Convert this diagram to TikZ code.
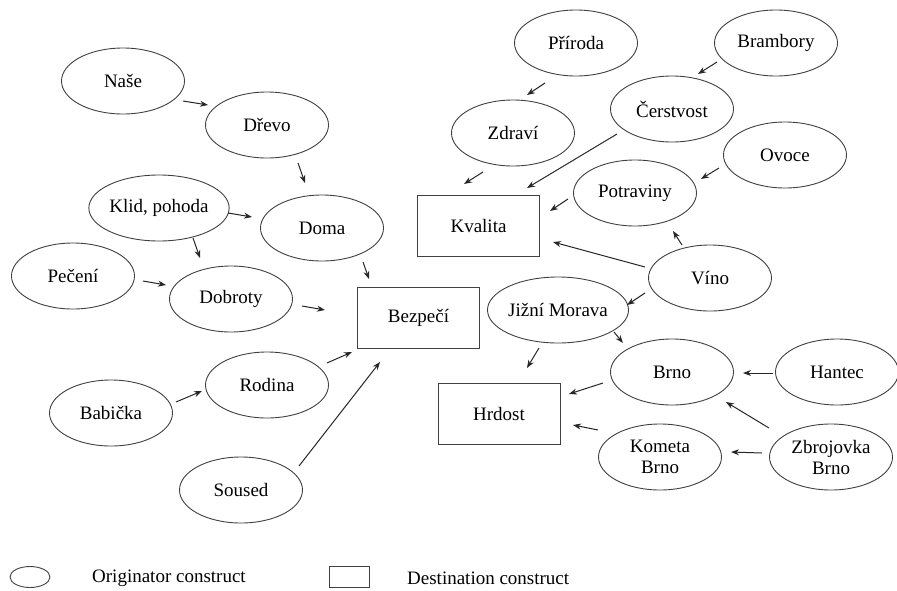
\documentclass[tikz,border=0pt]{standalone}
\usepackage{fontspec}
\setmainfont{Liberation Serif}
\usetikzlibrary{arrows.meta,shapes.geometric}

\tikzset{
  origin/.style={draw=black!75, line width=0.9pt, ellipse, minimum width=123pt,
    minimum height=66pt, inner sep=0pt, align=center, font=\fontsize{19}{21}\selectfont},
  dest/.style={draw=black!75, line width=0.9pt, rectangle, minimum width=122pt,
    minimum height=61pt, inner sep=0pt, font=\fontsize{19}{21}\selectfont},
  conn/.style={line width=1pt, black!85, -{Stealth[length=8pt,width=6pt]}},
  legendtext/.style={anchor=west, inner sep=0pt, font=\fontsize{19}{21}\selectfont}
}
\newcommand\link[4]{\draw[conn] ([shift={(#2)}]#1.center) -- ([shift={(#4)}]#3.center);}

\begin{document}
\begin{tikzpicture}[x=1pt,y=-1pt]
\useasboundingbox (0,0) rectangle (897,590);

% originator constructs
\node[origin] (nase)      at (123,81)  {Naše};
\node[origin] (drevo)     at (267,125) {Dřevo};
\node[origin] (klid)      at (159,208) {Klid, pohoda};
\node[origin] (doma)      at (322,228) {Doma};
\node[origin] (peceni)    at (73,276)  {Pečení};
\node[origin] (dobroty)   at (231,299) {Dobroty};
\node[origin] (babicka)   at (111,413) {Babička};
\node[origin] (rodina)    at (267,385) {Rodina};
\node[origin] (soused)    at (241,490) {Soused};
\node[origin] (priroda)   at (576,43)  {Příroda};
\node[origin] (brambory)  at (776,43)  {Brambory};
\node[origin] (zdravi)    at (513,133) {Zdraví};
\node[origin] (cerstvost) at (672,109) {Čerstvost};
\node[origin] (ovoce)     at (785,155) {Ovoce};
\node[origin] (potraviny) at (635,193) {Potraviny};
\node[origin] (vino)      at (710,278) {Víno};
\node[origin] (jizni)     at (558,310) {Jižní Morava};
\node[origin] (brno)      at (672,372) {Brno};
\node[origin] (hantec)    at (837,372) {Hantec};
\node[origin] (kometa)    at (660,457) {Kometa\\Brno};
\node[origin] (zbrojovka) at (831,457) {Zbrojovka\\Brno};

% destination constructs
\node[dest] (kvalita) at (478.5,225.5) {Kvalita};
\node[dest] (bezpeci) at (418.5,317.5) {Bezpečí};
\node[dest] (hrdost)  at (499,413.5)   {Hrdost};

% links
\link{nase}{60,20}{drevo}{-59,-20}
\link{drevo}{31,38}{doma}{-17,-45}
\link{klid}{69,5}{doma}{-70,-11}
\link{klid}{34,30}{dobroty}{-31,-41}
\link{doma}{41,34}{bezpeci}{-49.5,-38.5}
\link{peceni}{70,5}{dobroty}{-65,-14}
\link{dobroty}{71,7}{bezpeci}{-93.5,-7.5}
\link{rodina}{60,-22}{bezpeci}{-66.5,34.5}
\link{soused}{58,-24}{bezpeci}{-38.5,44.5}
\link{babicka}{65,-11}{rodina}{-65,6}
\link{priroda}{-31,40}{zdravi}{14,-38}
\link{brambory}{-59,19}{cerstvost}{26,-35}
\link{zdravi}{-30,39}{kvalita}{-14.5,-41.5}
\link{cerstvost}{-55,25}{kvalita}{48.5,-37.5}
\link{ovoce}{-66,13}{potraviny}{66,-14}
\link{potraviny}{-67,6}{kvalita}{71.5,-14.5}
\link{vino}{-65,-11}{kvalita}{74.5,16.5}
\link{vino}{-28,-33}{potraviny}{38,38}
\link{vino}{-65,15}{jizni}{69,-5}
\link{jizni}{56,22}{brno}{-49,-29}
\link{jizni}{-19,38}{hrdost}{28,-45.5}
\link{brno}{-69,11}{hrdost}{70,-19.5}
\link{hantec}{-64,1}{brno}{71,1}
\link{zbrojovka}{-62,-29}{brno}{54,30}
\link{kometa}{-62,-27}{hrdost}{74,11.5}
\link{zbrojovka}{-69,-4}{kometa}{71,-5}

% legend
\node[draw=black!75, line width=0.9pt, ellipse, minimum width=40pt, minimum height=21pt, inner sep=0pt] (legO) at (30,577) {};
\node[legendtext] (legOt) at (92,578) {Originator construct};
\node[draw=black!75, line width=0.9pt, rectangle, minimum width=40pt, minimum height=21pt, inner sep=0pt] (legD) at (349,577) {};
\node[legendtext] (legDt) at (407,578) {Destination construct};
\end{tikzpicture}
\end{document}
